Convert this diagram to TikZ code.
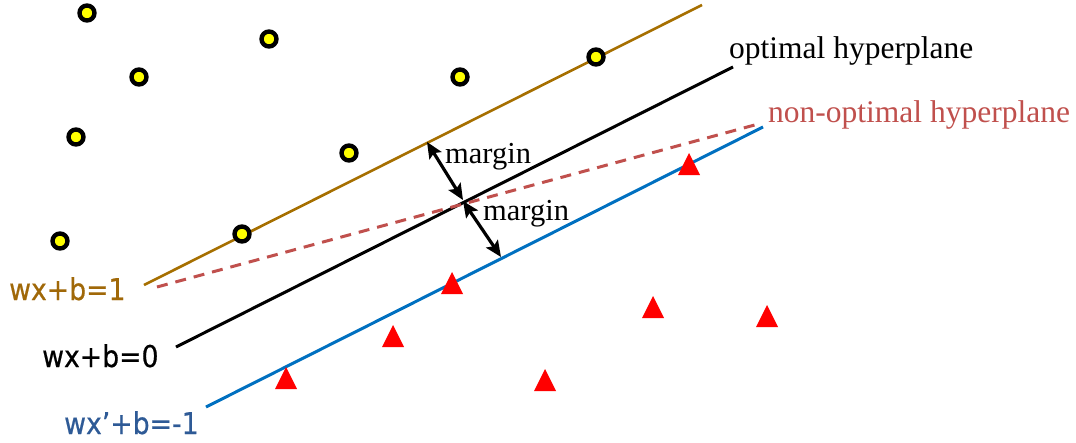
\documentclass[tikz,border=0pt]{standalone}
\usepackage{fontspec}
\setmainfont{Liberation Serif}
\newfontfamily\labelsans[FakeStretch=0.89,FakeBold=0.6]{DejaVu Sans}
\usetikzlibrary{arrows.meta}
\definecolor{brownline}{RGB}{166,111,0}
\definecolor{browntext}{RGB}{160,104,8}
\definecolor{blueline}{RGB}{0,112,192}
\definecolor{bluetext}{RGB}{46,90,150}
\definecolor{dashred}{RGB}{192,80,77}
\definecolor{dotyellow}{RGB}{255,255,0}
\definecolor{trired}{RGB}{255,0,0}
\tikzset{
  plane/.style={line width=3pt},
  pt/.style={circle, draw=black, fill=dotyellow, line width=4.4pt, minimum size=15pt, inner sep=0pt},
  eqlabel/.style={inner sep=0pt, anchor=base west, font=\labelsans\fontsize{30}{33}\selectfont},
  serlabel/.style={inner sep=0pt, anchor=base west, font=\fontsize{31.5}{34}\selectfont},
  marglabel/.style={inner sep=0pt, anchor=base west, font=\fontsize{30.5}{33}\selectfont},
  marrow/.style={{Stealth[length=16pt,width=14pt,inset=3pt]}-{Stealth[length=16pt,width=14pt,inset=3pt]}, line width=3.2pt},
  tri/.style={fill=trired}
}
\begin{document}
\begin{tikzpicture}[x=1pt,y=-1pt]
\useasboundingbox (0,0) rectangle (1076,442);
% hyperplane end points
\coordinate (b1) at (144,285); \coordinate (b2) at (702,5);
\coordinate (k1) at (176,347); \coordinate (k2) at (733,67);
\coordinate (u1) at (206,407); \coordinate (u2) at (763,127);
\coordinate (d1) at (157,287); \coordinate (d2) at (762,123);
\draw[plane, brownline, line width=2.6pt] (b1) -- (b2);
\draw[plane, black] (k1) -- (k2);
\draw[plane, blueline] (u1) -- (u2);
\draw[plane, dashred, dash pattern=on 11pt off 8pt] (d1) -- (d2);
% margin arrows
\coordinate (m1a) at (427,142); \coordinate (m1b) at (463,200);
\coordinate (m2a) at (463,201); \coordinate (m2b) at (501,257);
\draw[marrow] (m1a) -- (m1b);
\draw[marrow] (m2a) -- (m2b);
% labels
\node[eqlabel, text=browntext] (l1) at (9,300) {wx+b=1};
\node[eqlabel, text=black] (l0) at (42,367) {wx+b=0};
\node[eqlabel, text=bluetext] (lm) at (64,434) {wx’+b=-1};
\node[serlabel, text=black] (opt) at (729,58) {optimal hyperplane};
\node[serlabel, text=dashred] (nopt) at (768,122) {non-optimal hyperplane};
\node[marglabel] (mg1) at (445,163) {margin};
\node[marglabel] (mg2) at (483,220) {margin};
% yellow points
\node[pt] (c1) at (87,13) {};
\node[pt] (c2) at (269,39) {};
\node[pt] (c3) at (139,77) {};
\node[pt] (c4) at (460,77) {};
\node[pt] (c5) at (596,57) {};
\node[pt] (c6) at (76,137) {};
\node[pt] (c7) at (349,153) {};
\node[pt] (c8) at (242,234) {};
\node[pt] (c9) at (60,241) {};
% red triangles (apex given)
\fill[tri] (286,367) -- ++(11,22) -- ++(-22,0) -- cycle;
\fill[tri] (393,325) -- ++(11,22) -- ++(-22,0) -- cycle;
\fill[tri] (452,272) -- ++(11,22) -- ++(-22,0) -- cycle;
\fill[tri] (545,369) -- ++(11,22) -- ++(-22,0) -- cycle;
\fill[tri] (689,153) -- ++(11,22) -- ++(-22,0) -- cycle;
\fill[tri] (653,296) -- ++(11,22) -- ++(-22,0) -- cycle;
\fill[tri] (767,305) -- ++(11,22) -- ++(-22,0) -- cycle;
\end{tikzpicture}
\end{document}
